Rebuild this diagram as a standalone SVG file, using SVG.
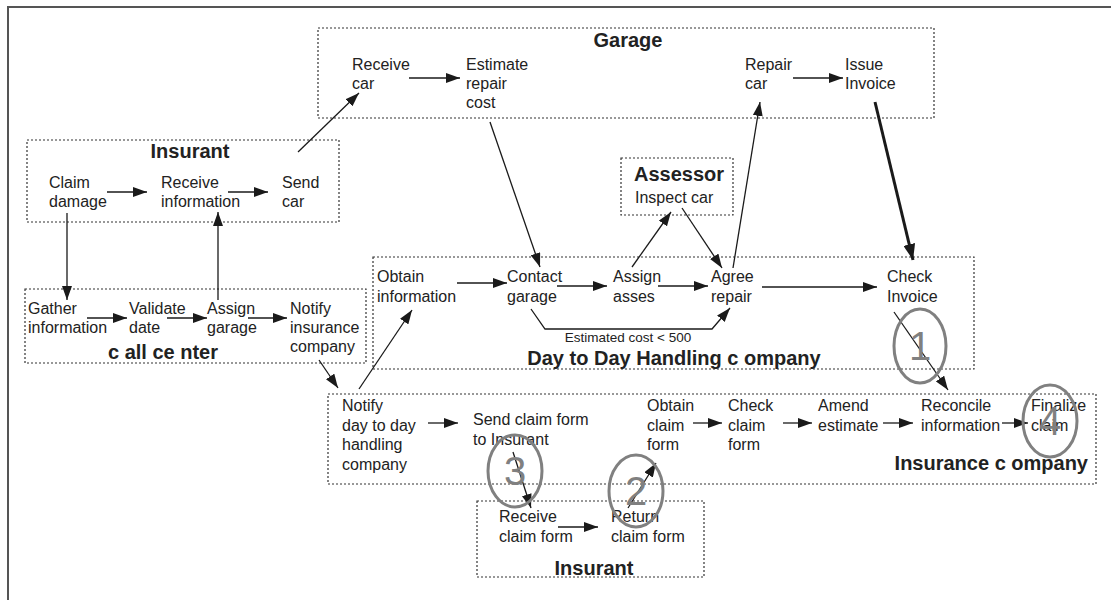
<svg xmlns="http://www.w3.org/2000/svg" width="1111" height="600" viewBox="0 0 1111 600">
  <defs>
    <marker id="arr" viewBox="0 0 14 10" refX="14" refY="5" markerWidth="14" markerHeight="10" markerUnits="userSpaceOnUse" orient="auto">
      <path d="M0,0 L14,5 L0,10 Z" fill="#1a1a1a"/>
    </marker>
    <marker id="arrBig" viewBox="0 0 16 12" refX="16" refY="6" markerWidth="16" markerHeight="12" markerUnits="userSpaceOnUse" orient="auto">
      <path d="M0,0 L16,6 L0,12 Z" fill="#1a1a1a"/>
    </marker>
  </defs>
  <style>
    .lane { fill: none; stroke: #333; stroke-width: 1.2; stroke-dasharray: 2 2; }
    .t { font-family: "Liberation Sans", Arial, sans-serif; font-size: 16px; fill: #222; }
    .h { font-family: "Liberation Sans", Arial, sans-serif; font-size: 20px; font-weight: bold; fill: #222; }
    .small { font-family: "Liberation Sans", Arial, sans-serif; font-size: 13.5px; fill: #222; }
    .c { fill: none; stroke: #808080; stroke-width: 3; }
    .num { font-family: "Liberation Sans", Arial, sans-serif; font-size: 40px; fill: #808080; text-anchor: middle; }
    .e { fill: none; stroke: #1a1a1a; stroke-width: 1.3; marker-end: url(#arr); }
    .eb { fill: none; stroke: #1a1a1a; stroke-width: 3; marker-end: url(#arrBig); }
  </style>

  <rect width="1111" height="600" fill="#fff"/>
  <!-- outer frame -->
  <path d="M8,600 L8,7 L1111,7" fill="none" stroke="#555" stroke-width="2"/>

  <!-- Garage -->
  <g id="garage">
    <rect class="lane" x="318" y="28" width="616" height="90"/>
    <text class="h" x="628" y="47" text-anchor="middle">Garage</text>
    <text class="t" x="352" y="70">Receive<tspan x="352" dy="19">car</tspan></text>
    <text class="t" x="466" y="70">Estimate<tspan x="466" dy="19">repair</tspan><tspan x="466" dy="19">cost</tspan></text>
    <text class="t" x="745" y="70">Repair<tspan x="745" dy="19">car</tspan></text>
    <text class="t" x="845" y="70">Issue<tspan x="845" dy="19">Invoice</tspan></text>
  </g>

  <!-- Insurant (top) -->
  <g id="insurant-top">
    <rect class="lane" x="27" y="140" width="312" height="82"/>
    <text class="h" x="190" y="158" text-anchor="middle">Insurant</text>
    <text class="t" x="49" y="188">Claim<tspan x="49" dy="19">damage</tspan></text>
    <text class="t" x="161" y="188">Receive<tspan x="161" dy="19">information</tspan></text>
    <text class="t" x="282" y="188">Send<tspan x="282" dy="19">car</tspan></text>
  </g>

  <!-- Assessor -->
  <g id="assessor">
    <rect class="lane" x="621" y="158" width="112" height="57"/>
    <text class="h" x="634" y="181">Assessor</text>
    <text class="t" x="635" y="203">Inspect car</text>
  </g>

  <!-- Call center -->
  <g id="call-center">
    <rect class="lane" x="25" y="289" width="341" height="74"/>
    <text class="t" x="28" y="314">Gather<tspan x="28" dy="19">information</tspan></text>
    <text class="t" x="129" y="314">Validate<tspan x="129" dy="19">date</tspan></text>
    <text class="t" x="207" y="314">Assign<tspan x="207" dy="19">garage</tspan></text>
    <text class="t" x="290" y="314">Notify<tspan x="290" dy="19">insurance</tspan><tspan x="290" dy="19">company</tspan></text>
    <text class="h" x="163" y="359" text-anchor="middle">c all ce nter</text>
  </g>

  <!-- Day to Day Handling company -->
  <g id="handling-company">
    <rect class="lane" x="373" y="257" width="601" height="112"/>
    <text class="t" x="377" y="282">Obtain<tspan x="377" dy="20">information</tspan></text>
    <text class="t" x="507" y="282">Contact<tspan x="507" dy="20">garage</tspan></text>
    <text class="t" x="613" y="282">Assign<tspan x="613" dy="20">asses</tspan></text>
    <text class="t" x="711" y="282">Agree<tspan x="711" dy="20">repair</tspan></text>
    <text class="t" x="887" y="282">Check<tspan x="887" dy="20">Invoice</tspan></text>
    <text class="small" x="628" y="342" text-anchor="middle">Estimated cost &lt; 500</text>
    <text class="h" x="674" y="365" text-anchor="middle">Day to Day Handling c ompany</text>
  </g>

  <!-- Insurance company -->
  <g id="insurance-company">
    <rect class="lane" x="328" y="394" width="768" height="90"/>
    <text class="t" x="342" y="411">Notify<tspan x="342" dy="19.5">day to day</tspan><tspan x="342" dy="19.5">handling</tspan><tspan x="342" dy="19.5">company</tspan></text>
    <text class="t" x="473" y="425">Send claim form<tspan x="473" dy="20">to Insurant</tspan></text>
    <text class="t" x="647" y="411">Obtain<tspan x="647" dy="19.5">claim</tspan><tspan x="647" dy="19.5">form</tspan></text>
    <text class="t" x="728" y="411">Check<tspan x="728" dy="19.5">claim</tspan><tspan x="728" dy="19.5">form</tspan></text>
    <text class="t" x="818" y="411">Amend<tspan x="818" dy="19.5">estimate</tspan></text>
    <text class="t" x="921" y="411">Reconcile<tspan x="921" dy="19.5">information</tspan></text>
    <text class="t" x="1031" y="411">Finalize<tspan x="1031" dy="19.5">claim</tspan></text>
    <text class="h" x="1088" y="470" text-anchor="end">Insurance c ompany</text>
  </g>

  <!-- Insurant (bottom) -->
  <g id="insurant-bottom">
    <rect class="lane" x="477" y="501" width="227" height="76"/>
    <text class="t" x="499" y="522">Receive<tspan x="499" dy="20">claim form</tspan></text>
    <text class="t" x="611" y="522">Return<tspan x="611" dy="20">claim form</tspan></text>
    <text class="h" x="594" y="575" text-anchor="middle">Insurant</text>
  </g>

  <!-- Connectors -->
  <g id="connectors">
    <line class="e" x1="409" y1="78" x2="460" y2="78"/>
    <line class="e" x1="793" y1="78" x2="843" y2="78"/>
    <line class="e" x1="107" y1="192" x2="147" y2="192"/>
    <line class="e" x1="228" y1="192" x2="268" y2="192"/>
    <line class="e" x1="298" y1="152" x2="359" y2="93"/>
    <line class="e" x1="67" y1="213" x2="67" y2="300"/>
    <line class="e" x1="218" y1="300" x2="218" y2="212"/>
    <line class="e" x1="87" y1="318" x2="127" y2="318"/>
    <line class="e" x1="167" y1="318" x2="207" y2="318"/>
    <line class="e" x1="248" y1="318" x2="287" y2="318"/>
    <line class="e" x1="319" y1="360" x2="338" y2="388"/>
    <line class="e" x1="359" y1="389" x2="412" y2="310"/>
    <line class="e" x1="457" y1="283" x2="507" y2="283"/>
    <line class="e" x1="557" y1="286" x2="607" y2="286"/>
    <line class="e" x1="658" y1="286" x2="708" y2="286"/>
    <line class="e" x1="762" y1="287" x2="877" y2="287"/>
    <polyline class="e" points="531,309 545,329 712,329 730,308"/>
    <line class="e" x1="490" y1="122" x2="540" y2="267"/>
    <line class="e" x1="632" y1="267" x2="671" y2="212"/>
    <line class="e" x1="682" y1="208" x2="722" y2="268"/>
    <line class="e" x1="733" y1="268" x2="760" y2="102"/>
    <line class="eb" x1="875" y1="102" x2="913" y2="260"/>
    <line class="e" x1="894" y1="312" x2="948" y2="390"/>
    <line class="e" x1="428" y1="423" x2="458" y2="423"/>
    <line class="e" x1="693" y1="423" x2="722" y2="423"/>
    <line class="e" x1="783" y1="423" x2="812" y2="423"/>
    <line class="e" x1="883" y1="423" x2="913" y2="423"/>
    <line class="e" x1="1002" y1="423" x2="1028" y2="423"/>
    <line class="e" x1="513" y1="452" x2="531" y2="508"/>
    <line class="e" x1="558" y1="527" x2="598" y2="527"/>
    <line class="e" x1="628" y1="508" x2="656" y2="463"/>
  </g>

  <!-- Numbered markers -->
  <g id="mark-1">
    <ellipse class="c" cx="920" cy="346" rx="26" ry="37"/>
    <text class="num" x="920" y="360">1</text>
  </g>
  <g id="mark-2">
    <ellipse class="c" cx="636" cy="491" rx="27" ry="36"/>
    <text class="num" x="636" y="505">2</text>
  </g>
  <g id="mark-3">
    <ellipse class="c" cx="515" cy="471" rx="27" ry="36"/>
    <text class="num" x="515" y="485">3</text>
  </g>
  <g id="mark-4">
    <ellipse class="c" cx="1050" cy="421" rx="27" ry="36"/>
    <text class="num" x="1050" y="435">4</text>
  </g>
</svg>
